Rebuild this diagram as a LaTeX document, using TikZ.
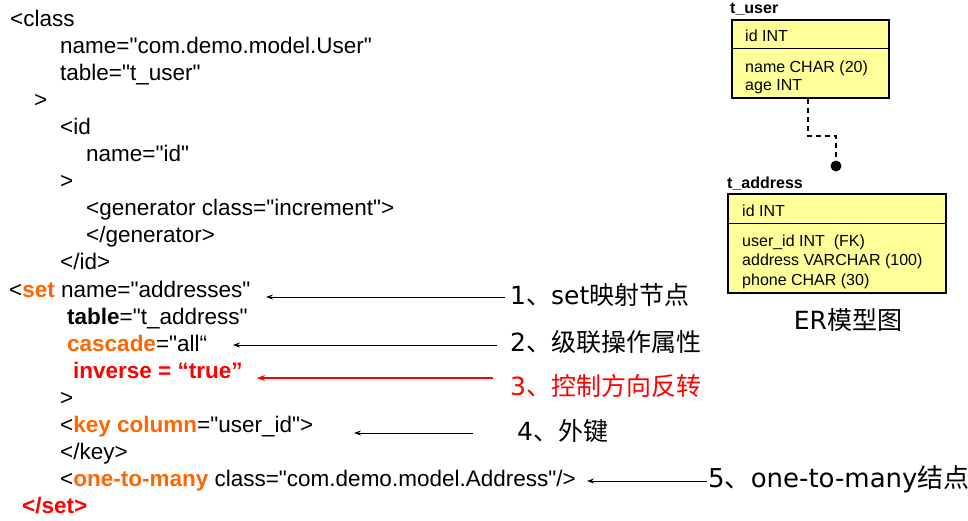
\documentclass[tikz,border=0pt]{standalone}
\usepackage{fontspec}
\setmainfont{Liberation Sans}
\newfontfamily\codefont{Liberation Sans}
\newfontfamily\cjk{Noto Sans CJK SC}
\newfontfamily\latfont{DejaVu Sans}
\usetikzlibrary{arrows.meta}
\definecolor{xorange}{HTML}{FF6600}
\definecolor{xred}{HTML}{FF0000}
\definecolor{eryellow}{HTML}{FFFF99}
\newcommand\kwo[1]{{\bfseries\color{xorange}#1}}
\newcommand\kwb[1]{{\bfseries #1}}
\begin{document}
\begin{tikzpicture}[x=1pt,y=-1pt,
  code/.style={anchor=base west,inner sep=0pt,font=\codefont\fontsize{22.5}{27}\selectfont},
  lab/.style={anchor=west,inner sep=0pt,font=\cjk\fontsize{25}{30}\selectfont},
  ertext/.style={anchor=base west,inner sep=0pt,font=\codefont\fontsize{16}{19}\selectfont},
  ertitle/.style={anchor=base west,inner sep=0pt,font=\codefont\bfseries\fontsize{16}{19}\selectfont},
  erbox/.style={draw=black,line width=1.6pt,fill=eryellow,anchor=north west,inner sep=0pt},
  arr/.style={-{Stealth[length=7pt,width=5pt]},line width=0.9pt,black},
  arrred/.style={-{Stealth[length=8pt,width=6pt]},line width=2pt,xred}]
\useasboundingbox (0,0) rectangle (968,520);
\fill[white] (0,0) rectangle (968,520);

% code lines
\node[code] (c1)  at (10,26)    {<class};
\node[code] (c2)  at (60,53.1)  {name="com.demo.model.User"};
\node[code] (c3)  at (60,80.2)  {table="t\_user"};
\node[code] (c4)  at (34,107.3) {>};
\node[code] (c5)  at (60,134.4) {<id};
\node[code] (c6)  at (86,161.5) {name="id"};
\node[code] (c7)  at (60,188.6) {>};
\node[code] (c8)  at (86,215.7) {<generator class="increment">};
\node[code] (c9)  at (86,242.8) {</generator>};
\node[code] (c10) at (60,269.9) {</id>};
\node[code] (c11) at (9,297)    {<\kwo{set} name="addresses"};
\node[code] (c12) at (67,324.1) {\kwb{table}="t\_address"};
\node[code] (c13) at (67,351.2) {\kwo{cascade}="all“};
\node[code,text=xred,font=\codefont\bfseries\fontsize{22.5}{27}\selectfont] (c14) at (73,378.3) {inverse = “true”};
\node[code] (c15) at (60,405.4) {>};
\node[code] (c16) at (60,432.5) {<\kwo{key column}="user\_id">};
\node[code] (c17) at (60,459.6) {</key>};
\node[code] (c18) at (60,486.7) {<\kwo{one-to-many} class="com.demo.model.Address"/>};
\node[code,text=xred,font=\codefont\bfseries\fontsize{22.5}{27}\selectfont] (c19) at (22,513.8) {</set>};

% labels
\node[lab] (l1) at (510,295) {{\latfont 1}、{\latfont set}映射节点};
\node[lab] (l2) at (510,342) {{\latfont 2}、级联操作属性};
\node[lab,text=xred] (l3) at (510,386) {{\latfont 3}、控制方向反转};
\node[lab] (l4) at (517,431) {{\latfont 4}、外键};
\node[lab,font=\cjk\fontsize{26}{30}\selectfont] (l5) at (708,479) {{\latfont 5}、{\latfont one-to-many}结点};

% arrows
\coordinate (a1s) at (505,297); \coordinate (a1e) at (266,297);
\coordinate (a2s) at (497,345); \coordinate (a2e) at (233,345);
\coordinate (a3s) at (493,378); \coordinate (a3e) at (257,378);
\coordinate (a4s) at (473,433); \coordinate (a4e) at (354,433);
\coordinate (a5s) at (707,481); \coordinate (a5e) at (587,481);
\draw[arr] (a1s) -- (a1e);
\draw[arr] (a2s) -- (a2e);
\draw[arrred] (a3s) -- (a3e);
\draw[arr] (a4s) -- (a4e);
\draw[arr] (a5s) -- (a5e);

% ER model
\node[ertitle] (tut) at (730,13.5) {t\_user};
\node[erbox,minimum width=157pt,minimum height=78pt] (tuser) at (731,19) {};
\draw[line width=1pt] (tuser.west |- 0,48) -- (tuser.east |- 0,48);
\node[ertext] (tu1) at (745,41) {id INT};
\node[ertext] (tu2) at (745,72) {name CHAR (20)};
\node[ertext] (tu3) at (745,90.5) {age INT};

\node[ertitle] (tat) at (727,188) {t\_address};
\node[erbox,minimum width=218pt,minimum height=99pt] (taddr) at (727,193) {};
\draw[line width=1pt] (taddr.west |- 0,223) -- (taddr.east |- 0,223);
\node[ertext] (ta1) at (742,216) {id INT};
\node[ertext] (ta2) at (742,246) {user\_id INT~~(FK)};
\node[ertext] (ta3) at (742,265.5) {address VARCHAR (100)};
\node[ertext] (ta4) at (742,285) {phone CHAR (30)};

\node[circle,fill=black,inner sep=0pt,minimum size=11pt] (dot) at (836,166) {};
\draw[line width=1.5pt,dash pattern=on 5pt off 4pt] (tuser.south -| 808,0) -- (808,136) -| (dot.north);

\node[font=\cjk\fontsize{25}{30}\selectfont,inner sep=0pt] (ercap) at (848,320) {{\latfont ER}模型图};
\end{tikzpicture}
\end{document}
